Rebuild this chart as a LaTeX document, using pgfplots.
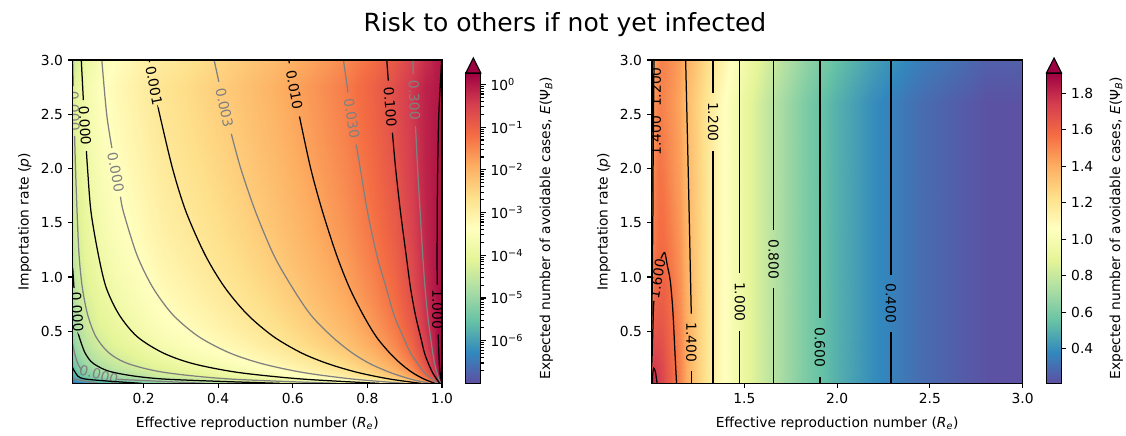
\documentclass[border=0pt]{standalone}
\usepackage{fontspec}
\setmainfont{DejaVu Sans}
\usepackage{pgfplots}
\pgfplotsset{compat=1.18}

\definecolor{contgray}{RGB}{128,128,128}
\definecolor{cmaptop}{RGB}{158,1,66}

\tikzset{
  labB/.style={inner sep=0pt, text=black},
  labG/.style={inner sep=0pt, text=contgray},
}

\pgfplotsset{
  colormap={spectralr}{rgb255=(94,79,162) rgb255=(50,136,189) rgb255=(102,194,165)
    rgb255=(171,221,164) rgb255=(230,245,152) rgb255=(255,255,191) rgb255=(254,224,139)
    rgb255=(253,174,97) rgb255=(244,109,67) rgb255=(213,62,79) rgb255=(158,1,66)},
  panel/.style={
    scale only axis, width=#1, height=233.65pt,
    colormap name=spectralr,
    axis on top, enlargelimits=false,
    ymin=0.02, ymax=3, ytick={0.5,1,1.5,2,2.5,3},
    xtick pos=left, ytick pos=left,
    tick align=outside, major tick length=3.5pt,
    every tick/.append style={line width=0.8pt, black},
    axis line style={line width=0.8pt},
    /pgf/number format/assume math mode=true,
    xticklabel style={/pgf/number format/fixed, /pgf/number format/precision=1, /pgf/number format/fixed zerofill},
    yticklabel style={/pgf/number format/fixed, /pgf/number format/precision=1, /pgf/number format/fixed zerofill},
    xlabel={Effective reproduction number (\textit{R}\textsubscript{\textit{e}})},
    xlabel style={yshift=-3pt},
    ylabel={Importation rate (\textit{p})},
    colorbar,
    colorbar style={
      scale only axis, width=10.84pt, height=224.3pt,
      at={(parent axis.south east)}, anchor=south west, xshift=8.7pt,
      ytick pos=right, yticklabel pos=right,
      tick align=outside, major tick length=3.5pt, minor tick length=2pt,
      every tick/.append style={line width=0.8pt, black},
      axis line style={line width=0.8pt},
      ylabel={Expected number of avoidable cases, \textit{E}(Ψ\textsubscript{\textit{B}})},
      ylabel shift=5pt,
      after end axis/.code={\draw[line width=0.8pt, fill=cmaptop] (rel axis cs:0,1) -- (rel axis cs:0.5,1.0483) -- (rel axis cs:1,1) -- cycle;},
    },
  },
  lineB/.style={black, line width=0.9pt, smooth},
  lineG/.style={contgray, line width=0.9pt, smooth},
}

\begin{document}
\begin{tikzpicture}
\useasboundingbox (0,0) rectangle (813.8pt,314.4pt);
\node[font=\fontsize{18.07}{21.7}\selectfont] at (408.3pt,296.3pt) {Risk to others if not yet infected};

% ---------------- left panel: R_e < 1, log10 of E(Psi_B) ----------------
\begin{axis}[panel=266.9pt, at={(52.54pt,37.36pt)}, anchor=south west,
  xmin=0.01, xmax=1, xtick={0.2,0.4,0.6,0.8,1},
  point meta min=-7, point meta max=0.27,
  colorbar style={ytick={-6,-5,-4,-3,-2,-1,0},
    yticklabels={10\textsuperscript{−6},10\textsuperscript{−5},10\textsuperscript{−4},10\textsuperscript{−3},10\textsuperscript{−2},10\textsuperscript{−1},10\textsuperscript{0}},
    minor ytick={-6.699,-6.523,-6.398,-6.301,-6.222,-6.155,-6.097,-6.046,
      -5.699,-5.523,-5.398,-5.301,-5.222,-5.155,-5.097,-5.046,
      -4.699,-4.523,-4.398,-4.301,-4.222,-4.155,-4.097,-4.046,
      -3.699,-3.523,-3.398,-3.301,-3.222,-3.155,-3.097,-3.046,
      -2.699,-2.523,-2.398,-2.301,-2.222,-2.155,-2.097,-2.046,
      -1.699,-1.523,-1.398,-1.301,-1.222,-1.155,-1.097,-1.046,
      -0.699,-0.523,-0.398,-0.301,-0.222,-0.155,-0.097,-0.046}}]

\addplot[matrix plot*, shader=interp, mesh/cols=19, point meta=explicit] coordinates {
(0.01,0.02)[-7.468] (0.03,0.02)[-6.973] (0.06,0.02)[-6.645] (0.1,0.02)[-6.385] (0.15,0.02)[-6.160] (0.2,0.02)[-5.982] (0.3,0.02)[-5.690] (0.4,0.02)[-5.431] (0.5,0.02)[-5.176] (0.6,0.02)[-4.903] (0.7,0.02)[-4.586] (0.78,0.02)[-4.270] (0.85,0.02)[-3.900] (0.9,0.02)[-3.523] (0.94,0.02)[-3.060] (0.97,0.02)[-2.445] (0.985,0.02)[-1.840] (0.995,0.02)[-0.908] (1,0.02)[0.256]
(0.01,0.06)[-6.639] (0.03,0.06)[-6.144] (0.06,0.06)[-5.816] (0.1,0.06)[-5.556] (0.15,0.06)[-5.331] (0.2,0.06)[-5.153] (0.3,0.06)[-4.861] (0.4,0.06)[-4.602] (0.5,0.06)[-4.347] (0.6,0.06)[-4.074] (0.7,0.06)[-3.757] (0.78,0.06)[-3.441] (0.85,0.06)[-3.071] (0.9,0.06)[-2.695] (0.94,0.06)[-2.233] (0.97,0.06)[-1.621] (0.985,0.06)[-1.031] (0.995,0.06)[-0.229] (1,0.06)[0.241]
(0.01,0.12)[-6.175] (0.03,0.12)[-5.680] (0.06,0.12)[-5.352] (0.1,0.12)[-5.092] (0.15,0.12)[-4.867] (0.2,0.12)[-4.689] (0.3,0.12)[-4.397] (0.4,0.12)[-4.138] (0.5,0.12)[-3.883] (0.6,0.12)[-3.610] (0.7,0.12)[-3.293] (0.78,0.12)[-2.977] (0.85,0.12)[-2.607] (0.9,0.12)[-2.232] (0.94,0.12)[-1.772] (0.97,0.12)[-1.169] (0.985,0.12)[-0.612] (0.995,0.12)[0.011] (1,0.12)[0.231]
(0.01,0.2)[-5.866] (0.03,0.2)[-5.371] (0.06,0.2)[-5.043] (0.1,0.2)[-4.783] (0.15,0.2)[-4.558] (0.2,0.2)[-4.380] (0.3,0.2)[-4.088] (0.4,0.2)[-3.829] (0.5,0.2)[-3.574] (0.6,0.2)[-3.301] (0.7,0.2)[-2.984] (0.78,0.2)[-2.668] (0.85,0.2)[-2.300] (0.9,0.2)[-1.925] (0.94,0.2)[-1.468] (0.97,0.2)[-0.880] (0.985,0.2)[-0.369] (0.995,0.2)[0.094] (1,0.2)[0.211]
(0.01,0.3)[-5.639] (0.03,0.3)[-5.144] (0.06,0.3)[-4.816] (0.1,0.3)[-4.556] (0.15,0.3)[-4.331] (0.2,0.3)[-4.153] (0.3,0.3)[-3.861] (0.4,0.3)[-3.602] (0.5,0.3)[-3.347] (0.6,0.3)[-3.074] (0.7,0.3)[-2.757] (0.78,0.3)[-2.442] (0.85,0.3)[-2.074] (0.9,0.3)[-1.700] (0.94,0.3)[-1.248] (0.97,0.3)[-0.680] (0.985,0.3)[-0.223] (0.995,0.3)[0.119] (1,0.3)[0.191]
(0.01,0.45)[-5.425] (0.03,0.45)[-4.930] (0.06,0.45)[-4.602] (0.1,0.45)[-4.342] (0.15,0.45)[-4.117] (0.2,0.45)[-3.939] (0.3,0.45)[-3.647] (0.4,0.45)[-3.388] (0.5,0.45)[-3.133] (0.6,0.45)[-2.860] (0.7,0.45)[-2.544] (0.78,0.45)[-2.229] (0.85,0.45)[-1.862] (0.9,0.45)[-1.491] (0.94,0.45)[-1.047] (0.97,0.45)[-0.509] (0.985,0.45)[-0.121] (0.995,0.45)[0.118] (1,0.45)[0.161]
(0.01,0.65)[-5.240] (0.03,0.65)[-4.745] (0.06,0.65)[-4.417] (0.1,0.65)[-4.157] (0.15,0.65)[-3.932] (0.2,0.65)[-3.754] (0.3,0.65)[-3.462] (0.4,0.65)[-3.203] (0.5,0.65)[-2.948] (0.6,0.65)[-2.676] (0.7,0.65)[-2.360] (0.78,0.65)[-2.046] (0.85,0.65)[-1.680] (0.9,0.65)[-1.313] (0.94,0.65)[-0.879] (0.97,0.65)[-0.379] (0.985,0.65)[-0.059] (0.995,0.65)[0.109] (1,0.65)[0.137]
(0.01,0.9)[-5.083] (0.03,0.9)[-4.588] (0.06,0.9)[-4.260] (0.1,0.9)[-4.000] (0.15,0.9)[-3.775] (0.2,0.9)[-3.597] (0.3,0.9)[-3.305] (0.4,0.9)[-3.047] (0.5,0.9)[-2.793] (0.6,0.9)[-2.521] (0.7,0.9)[-2.205] (0.78,0.9)[-1.891] (0.85,0.9)[-1.527] (0.9,0.9)[-1.164] (0.94,0.9)[-0.744] (0.97,0.9)[-0.287] (0.985,0.9)[-0.027] (0.995,0.9)[0.095] (1,0.9)[0.114]
(0.01,1.2)[-4.947] (0.03,1.2)[-4.452] (0.06,1.2)[-4.124] (0.1,1.2)[-3.864] (0.15,1.2)[-3.639] (0.2,1.2)[-3.461] (0.3,1.2)[-3.170] (0.4,1.2)[-2.911] (0.5,1.2)[-2.657] (0.6,1.2)[-2.385] (0.7,1.2)[-2.069] (0.78,1.2)[-1.757] (0.85,1.2)[-1.396] (0.9,1.2)[-1.040] (0.94,1.2)[-0.637] (0.97,1.2)[-0.226] (0.985,1.2)[-0.017] (0.995,1.2)[0.072] (1,1.2)[0.086]
(0.01,1.6)[-4.813] (0.03,1.6)[-4.318] (0.06,1.6)[-3.990] (0.1,1.6)[-3.730] (0.15,1.6)[-3.505] (0.2,1.6)[-3.328] (0.3,1.6)[-3.036] (0.4,1.6)[-2.778] (0.5,1.6)[-2.524] (0.6,1.6)[-2.252] (0.7,1.6)[-1.937] (0.78,1.6)[-1.627] (0.85,1.6)[-1.270] (0.9,1.6)[-0.922] (0.94,1.6)[-0.540] (0.97,1.6)[-0.179] (0.985,1.6)[-0.015] (0.995,1.6)[0.050] (1,1.6)[0.061]
(0.01,2)[-4.711] (0.03,2)[-4.216] (0.06,2)[-3.888] (0.1,2)[-3.629] (0.15,2)[-3.404] (0.2,2)[-3.226] (0.3,2)[-2.935] (0.4,2)[-2.677] (0.5,2)[-2.423] (0.6,2)[-2.151] (0.7,2)[-1.837] (0.78,2)[-1.528] (0.85,2)[-1.175] (0.9,2)[-0.835] (0.94,2)[-0.474] (0.97,2)[-0.153] (0.985,2)[-0.018] (0.995,2)[0.034] (1,2)[0.042]
(0.01,2.5)[-4.610] (0.03,2.5)[-4.115] (0.06,2.5)[-3.787] (0.1,2.5)[-3.528] (0.15,2.5)[-3.303] (0.2,2.5)[-3.125] (0.3,2.5)[-2.834] (0.4,2.5)[-2.576] (0.5,2.5)[-2.323] (0.6,2.5)[-2.052] (0.7,2.5)[-1.739] (0.78,2.5)[-1.432] (0.85,2.5)[-1.084] (0.9,2.5)[-0.755] (0.94,2.5)[-0.416] (0.97,2.5)[-0.135] (0.985,2.5)[-0.026] (0.995,2.5)[0.014] (1,2.5)[0.021]
(0.01,3)[-4.528] (0.03,3)[-4.033] (0.06,3)[-3.705] (0.1,3)[-3.446] (0.15,3)[-3.221] (0.2,3)[-3.044] (0.3,3)[-2.753] (0.4,3)[-2.495] (0.5,3)[-2.242] (0.6,3)[-1.971] (0.7,3)[-1.660] (0.78,3)[-1.355] (0.85,3)[-1.013] (0.9,3)[-0.694] (0.94,3)[-0.377] (0.97,3)[-0.129] (0.985,3)[-0.039] (0.995,3)[-0.005] (1,3)[0.001]
};

% contour lines (black: decades, gray: half decades)
% 1.000
\addplot[lineB] coordinates {(0.9992,3) (0.9915,2.5) (0.9885,2) (0.9873,1.6) (0.9869,1.2) (0.9871,0.93)};
\addplot[lineB] coordinates {(0.9899,0.47) (0.9901,0.45) (0.9915,0.3) (0.993,0.2) (0.9948,0.12) (0.9974,0.06) (0.9989,0.02)};
\node[labB, rotate=-90] at (axis cs:0.988,0.70) {1.000};
% 0.300
\addplot[lineG] coordinates {(0.9216,3) (0.9231,2.87)};
\addplot[lineG] coordinates {(0.929,2.39) (0.9346,2) (0.9414,1.6) (0.9483,1.2) (0.9545,0.9) (0.9614,0.65) (0.9692,0.45) (0.9752,0.3) (0.9805,0.2) (0.9864,0.12) (0.9913,0.06) (0.9967,0.02)};
\node[labG, rotate=-87.7] at (axis cs:0.9259,2.63) {0.300};
% 0.100
\addplot[lineB] coordinates {(0.852,3) (0.8561,2.81)};
\addplot[lineB] coordinates {(0.8672,2.33) (0.8757,2) (0.8888,1.6) (0.904,1.2) (0.9156,0.9) (0.9288,0.65) (0.9426,0.45) (0.9531,0.3) (0.9639,0.2) (0.9746,0.12) (0.9854,0.06) (0.994,0.02)};
\node[labB, rotate=-85.5] at (axis cs:0.8613,2.57) {0.100};
% 0.030
\addplot[lineG] coordinates {(0.7359,3) (0.7481,2.7)};
\addplot[lineG] coordinates {(0.7701,2.22) (0.781,2) (0.8004,1.6) (0.8254,1.2) (0.8506,0.9) (0.8714,0.65) (0.8957,0.45) (0.9157,0.3) (0.9352,0.2) (0.9524,0.12) (0.9725,0.06) (0.9884,0.02)};
\node[labG, rotate=-80.4] at (axis cs:0.7583,2.46) {0.030};
% 0.010
\addplot[lineB] coordinates {(0.5893,3) (0.5909,2.97)};
\addplot[lineB] coordinates {(0.6179,2.48) (0.6481,2) (0.68,1.6) (0.7177,1.2) (0.7522,0.9) (0.7888,0.65) (0.8237,0.45) (0.8599,0.3) (0.89,0.2) (0.9202,0.12) (0.9514,0.06) (0.981,0.02)};
\node[labB, rotate=-79.4] at (axis cs:0.6043,2.725) {0.010};
% 0.003
\addplot[lineG] coordinates {(0.3891,3) (0.4018,2.8)};
\addplot[lineG] coordinates {(0.4352,2.32) (0.4606,2) (0.5004,1.6) (0.5493,1.2) (0.5993,0.9) (0.6484,0.65) (0.7053,0.45) (0.7594,0.3) (0.8076,0.2) (0.8612,0.12) (0.9149,0.06) (0.9662,0.02)};
\node[labG, rotate=-77.7] at (axis cs:0.4171,2.56) {0.003};
% 0.001
\addplot[lineB] coordinates {(0.2151,3) (0.2162,2.98)};
\addplot[lineB] coordinates {(0.2402,2.55) (0.243,2.5) (0.2777,2) (0.314,1.6) (0.3656,1.2) (0.4185,0.9) (0.4796,0.65) (0.5487,0.45) (0.6233,0.3) (0.695,0.2) (0.7742,0.12) (0.8594,0.06) (0.9429,0.02)};
\node[labB, rotate=-79.2] at (axis cs:0.228,2.765) {0.001};
% 0.0003
\addplot[lineG] coordinates {(0.0881,3) (0.1011,2.5) (0.1151,2.19)};
\addplot[lineG] coordinates {(0.1382,1.74) (0.146,1.6) (0.1826,1.2) (0.2253,0.9) (0.2791,0.65) (0.3479,0.45) (0.431,0.3) (0.5187,0.2) (0.6274,0.12) (0.7592,0.06) (0.9,0.02)};
\node[labG, rotate=-79] at (axis cs:0.1256,1.965) {0.000};
% 0.0001
\addplot[lineB] coordinates {(0.033,3) (0.0386,2.63)};
\addplot[lineB] coordinates {(0.0468,2.16) (0.0498,2) (0.0591,1.6) (0.0791,1.2) (0.1,0.9) (0.1349,0.65) (0.1829,0.45) (0.2524,0.3) (0.334,0.2) (0.4541,0.12) (0.6233,0.06) (0.8311,0.02)};
\node[labB, rotate=-86.3] at (axis cs:0.0425,2.395) {0.000};
% 0.00003
\addplot[lineG] coordinates {(0.0102,3) (0.0118,2.76)};
\addplot[lineG] coordinates {(0.0151,2.3) (0.0176,2) (0.0217,1.6) (0.0271,1.2) (0.0359,0.9) (0.0503,0.65) (0.0722,0.45) (0.1073,0.3) (0.1598,0.2) (0.2568,0.12) (0.431,0.06) (0.716,0.02)};
\node[labG, rotate=-88] at (axis cs:0.0135,2.53) {0.000};
% 0.00001
\addplot[lineB] coordinates {(0.01,1.083) (0.0134,0.9)};
\addplot[lineB] coordinates {(0.0268,0.46) (0.0272,0.45) (0.0432,0.3) (0.0666,0.2) (0.1204,0.12) (0.2524,0.06) (0.5645,0.02)};
\node[labB, rotate=-86] at (axis cs:0.022,0.68) {0.000};
% 0.000003
\addplot[lineG] coordinates {(0.01,0.381) (0.0147,0.3) (0.0239,0.2) (0.0335,0.143)};
\addplot[lineG] coordinates {(0.13,0.0565) (0.3645,0.02)};
\node[labG, rotate=-15] at (axis cs:0.08,0.10) {0.000};
% 0.000001 and 0.0000003
\addplot[lineB] coordinates {(0.01,0.1653) (0.0171,0.12) (0.0432,0.06) (0.195,0.02)};
\addplot[lineG] coordinates {(0.01,0.075) (0.0147,0.06) (0.0788,0.02)};

\node[anchor=south west, inner sep=0pt, yshift=4pt] at (rel axis cs:0,1) {1e−3};
\end{axis}

% ---------------- right panel: R_e > 1, E(Psi_B) ----------------
\begin{axis}[panel=268.1pt, at={(471.0pt,37.36pt)}, anchor=south west,
  xmin=1, xmax=3, xtick={1.5,2,2.5,3},
  point meta min=0.21, point meta max=1.91,
  colorbar style={ytick={0.4,0.6,0.8,1.0,1.2,1.4,1.6,1.8},
    /pgf/number format/assume math mode=true,
    yticklabel style={/pgf/number format/fixed, /pgf/number format/precision=1, /pgf/number format/fixed zerofill}}]

\addplot[matrix plot*, shader=interp, mesh/cols=23, point meta=explicit] coordinates {
(1,0.02)[1.72] (1.005,0.02)[1.84] (1.01,0.02)[1.86] (1.02,0.02)[1.83] (1.035,0.02)[1.78] (1.05,0.02)[1.75] (1.07,0.02)[1.72] (1.1,0.02)[1.66] (1.134,0.02)[1.60] (1.17,0.02)[1.52] (1.215,0.02)[1.40] (1.27,0.02)[1.30] (1.331,0.02)[1.20] (1.4,0.02)[1.10] (1.475,0.02)[1.00] (1.56,0.02)[0.90] (1.657,0.02)[0.80] (1.77,0.02)[0.70] (1.907,0.02)[0.60] (2.08,0.02)[0.50] (2.29,0.02)[0.40] (2.6,0.02)[0.30] (3,0.02)[0.22]
(1,0.3)[1.50] (1.005,0.3)[1.68] (1.01,0.3)[1.74] (1.02,0.3)[1.75] (1.035,0.3)[1.74] (1.05,0.3)[1.72] (1.07,0.3)[1.69] (1.1,0.3)[1.645] (1.134,0.3)[1.585] (1.17,0.3)[1.51] (1.215,0.3)[1.40] (1.27,0.3)[1.30] (1.331,0.3)[1.20] (1.4,0.3)[1.10] (1.475,0.3)[1.00] (1.56,0.3)[0.90] (1.657,0.3)[0.80] (1.77,0.3)[0.70] (1.907,0.3)[0.60] (2.08,0.3)[0.50] (2.29,0.3)[0.40] (2.6,0.3)[0.30] (3,0.3)[0.22]
(1,0.7)[1.35] (1.005,0.7)[1.53] (1.01,0.7)[1.61] (1.02,0.7)[1.65] (1.035,0.7)[1.66] (1.05,0.7)[1.66] (1.07,0.7)[1.65] (1.1,0.7)[1.62] (1.134,0.7)[1.57] (1.17,0.7)[1.50] (1.215,0.7)[1.395] (1.27,0.7)[1.30] (1.331,0.7)[1.20] (1.4,0.7)[1.10] (1.475,0.7)[1.00] (1.56,0.7)[0.90] (1.657,0.7)[0.80] (1.77,0.7)[0.70] (1.907,0.7)[0.60] (2.08,0.7)[0.50] (2.29,0.7)[0.40] (2.6,0.7)[0.30] (3,0.7)[0.22]
(1,1.1)[1.25] (1.005,1.1)[1.44] (1.01,1.1)[1.53] (1.02,1.1)[1.58] (1.035,1.1)[1.60] (1.05,1.1)[1.605] (1.07,1.1)[1.61] (1.1,1.1)[1.59] (1.134,1.1)[1.54] (1.17,1.1)[1.48] (1.215,1.1)[1.385] (1.27,1.1)[1.30] (1.331,1.1)[1.20] (1.4,1.1)[1.10] (1.475,1.1)[1.00] (1.56,1.1)[0.90] (1.657,1.1)[0.80] (1.77,1.1)[0.70] (1.907,1.1)[0.60] (2.08,1.1)[0.50] (2.29,1.1)[0.40] (2.6,1.1)[0.30] (3,1.1)[0.22]
(1,1.6)[1.18] (1.005,1.6)[1.37] (1.01,1.6)[1.47] (1.02,1.6)[1.53] (1.035,1.6)[1.56] (1.05,1.6)[1.57] (1.07,1.6)[1.57] (1.1,1.6)[1.55] (1.134,1.6)[1.51] (1.17,1.6)[1.46] (1.215,1.6)[1.375] (1.27,1.6)[1.295] (1.331,1.6)[1.20] (1.4,1.6)[1.10] (1.475,1.6)[1.00] (1.56,1.6)[0.90] (1.657,1.6)[0.80] (1.77,1.6)[0.70] (1.907,1.6)[0.60] (2.08,1.6)[0.50] (2.29,1.6)[0.40] (2.6,1.6)[0.30] (3,1.6)[0.22]
(1,2.2)[1.12] (1.005,2.2)[1.32] (1.01,2.2)[1.44] (1.02,2.2)[1.51] (1.035,2.2)[1.545] (1.05,2.2)[1.555] (1.07,2.2)[1.545] (1.1,2.2)[1.52] (1.134,2.2)[1.48] (1.17,2.2)[1.44] (1.215,2.2)[1.365] (1.27,2.2)[1.29] (1.331,2.2)[1.20] (1.4,2.2)[1.10] (1.475,2.2)[1.00] (1.56,2.2)[0.90] (1.657,2.2)[0.80] (1.77,2.2)[0.70] (1.907,2.2)[0.60] (2.08,2.2)[0.50] (2.29,2.2)[0.40] (2.6,2.2)[0.30] (3,2.2)[0.22]
(1,3)[1.05] (1.005,3)[1.25] (1.01,3)[1.38] (1.02,3)[1.46] (1.035,3)[1.51] (1.05,3)[1.52] (1.07,3)[1.51] (1.1,3)[1.49] (1.134,3)[1.46] (1.17,3)[1.42] (1.215,3)[1.35] (1.27,3)[1.28] (1.331,3)[1.20] (1.4,3)[1.10] (1.475,3)[1.00] (1.56,3)[0.90] (1.657,3)[0.80] (1.77,3)[0.70] (1.907,3)[0.60] (2.08,3)[0.50] (2.29,3)[0.40] (2.6,3)[0.30] (3,3)[0.22]
};

% contour lines every 0.2
\addplot[lineB] coordinates {(2.29,3) (2.29,1.02)};
\addplot[lineB] coordinates {(2.29,0.49) (2.29,0.02)};
\node[labB, rotate=-90] at (axis cs:2.29,0.755) {0.400};
\addplot[lineB] coordinates {(1.907,3) (1.907,0.62)};
\addplot[lineB] coordinates {(1.907,0.08) (1.907,0.02)};
\node[labB, rotate=-90] at (axis cs:1.907,0.35) {0.600};
\addplot[lineB] coordinates {(1.657,3) (1.657,1.43)};
\addplot[lineB] coordinates {(1.657,0.90) (1.657,0.02)};
\node[labB, rotate=-90] at (axis cs:1.657,1.165) {0.800};
\addplot[lineB] coordinates {(1.475,3) (1.475,1.04)};
\addplot[lineB] coordinates {(1.475,0.50) (1.475,0.02)};
\node[labB, rotate=-90] at (axis cs:1.475,0.77) {1.000};
\addplot[lineB] coordinates {(1.331,3) (1.331,2.70)};
\addplot[lineB] coordinates {(1.331,2.16) (1.331,0.02)};
\node[labB, rotate=-90] at (axis cs:1.331,2.43) {1.200};
% 1.400 (right branch and left branch)
\addplot[lineB] coordinates {(1.183,3) (1.194,2.2) (1.2018,1.6) (1.2079,1.1) (1.2129,0.7) (1.2131,0.67)};
\addplot[lineB] coordinates {(1.215,0.13) (1.215,0.02)};
\node[labB, rotate=-90] at (axis cs:1.2141,0.40) {1.400};
\addplot[lineB] coordinates {(1.0125,3) (1.0083,2.2) (1.0065,1.6) (1.0039,1.1) (1.0014,0.7) (1,0.567)};
% 1.200 left branch
\addplot[lineB] coordinates {(1.00375,3) (1.002,2.2) (1.0005,1.6) (1,1.457)};
% 1.600 arch
\addplot[lineB] coordinates {(1,0.173) (1.0028,0.3) (1.0094,0.7) (1.012,0.78)};
\addplot[lineB] coordinates {(1.05,1.171) (1.07,1.225) (1.085,1.1) (1.1,0.967) (1.1136,0.7) (1.1255,0.3) (1.134,0.02)};
\node[labB, rotate=80] at (axis cs:1.03,0.985) {1.600};
% 1.800 loop
\addplot[lineB] coordinates {(1.0033,0.02) (1.005,0.09) (1.01,0.16) (1.02,0.125) (1.029,0.02)};
\node[labB, rotate=90] at (axis cs:1.022,2.75) {1.200};
\node[labB, rotate=90] at (axis cs:1.022,2.3) {1.400};

\node[anchor=south west, inner sep=0pt, yshift=4pt] at (rel axis cs:0,1) {1e−3};
\end{axis}
\end{tikzpicture}
\end{document}
